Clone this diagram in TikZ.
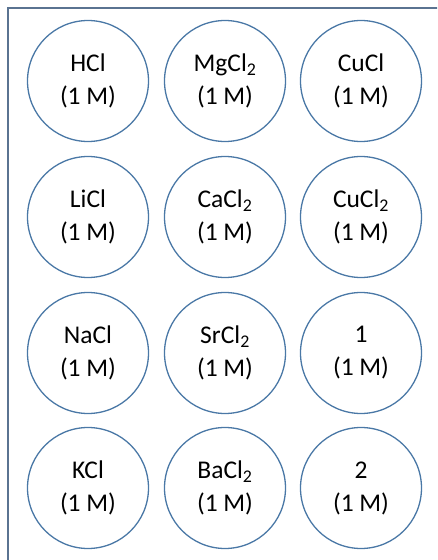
\documentclass[tikz,border=0pt]{standalone}
\usepackage{fontspec}
\setmainfont{Carlito}
\definecolor{wellblue}{HTML}{4A78A6}
\definecolor{plateblue}{HTML}{5A7391}

\begin{document}
\begin{tikzpicture}
        [
            x = 1pt, y = 1pt,
            well/.style = {circle, draw = wellblue, line width = 1.3pt, minimum size = 121pt,
                inner sep = 0pt, align = center,
                font = \fontsize{25.5}{33}\selectfont},
            plate/.style = {draw = plateblue, line width = 1.6pt}
        ]

        \useasboundingbox (0,0) rectangle (437,560);
        \clip (0,0) rectangle (437,560);
        \draw [plate] (8,-20) rectangle (460,552);

        % first row
        \node [well] (hcl) at (88,479) {HCl\\(1 M)};
        \node [well] (mgcl) at (225,479) {MgCl\textsubscript{2}\\(1 M)};
        \node [well] (cucl) at (361,479) {CuCl\\(1 M)};

        % second row
        \node [well] (licl) at (88,343) {LiCl\\(1 M)};
        \node [well] (cacl) at (225,343) {CaCl\textsubscript{2}\\(1 M)};
        \node [well] (cucltwo) at (361,343) {CuCl\textsubscript{2}\\(1 M)};

        % third row
        \node [well] (nacl) at (88,207) {NaCl\\(1 M)};
        \node [well] (srcl) at (225,207) {SrCl\textsubscript{2}\\(1 M)};
        \node [well] (one) at (361,207) {1\\(1 M)};

        % fourth row
        \node [well] (kcl) at (88,72) {KCl\\(1 M)};
        \node [well] (bacl) at (225,72) {BaCl\textsubscript{2}\\(1 M)};
        \node [well] (two) at (361,72) {2\\(1 M)};
    \end{tikzpicture}
\end{document}
